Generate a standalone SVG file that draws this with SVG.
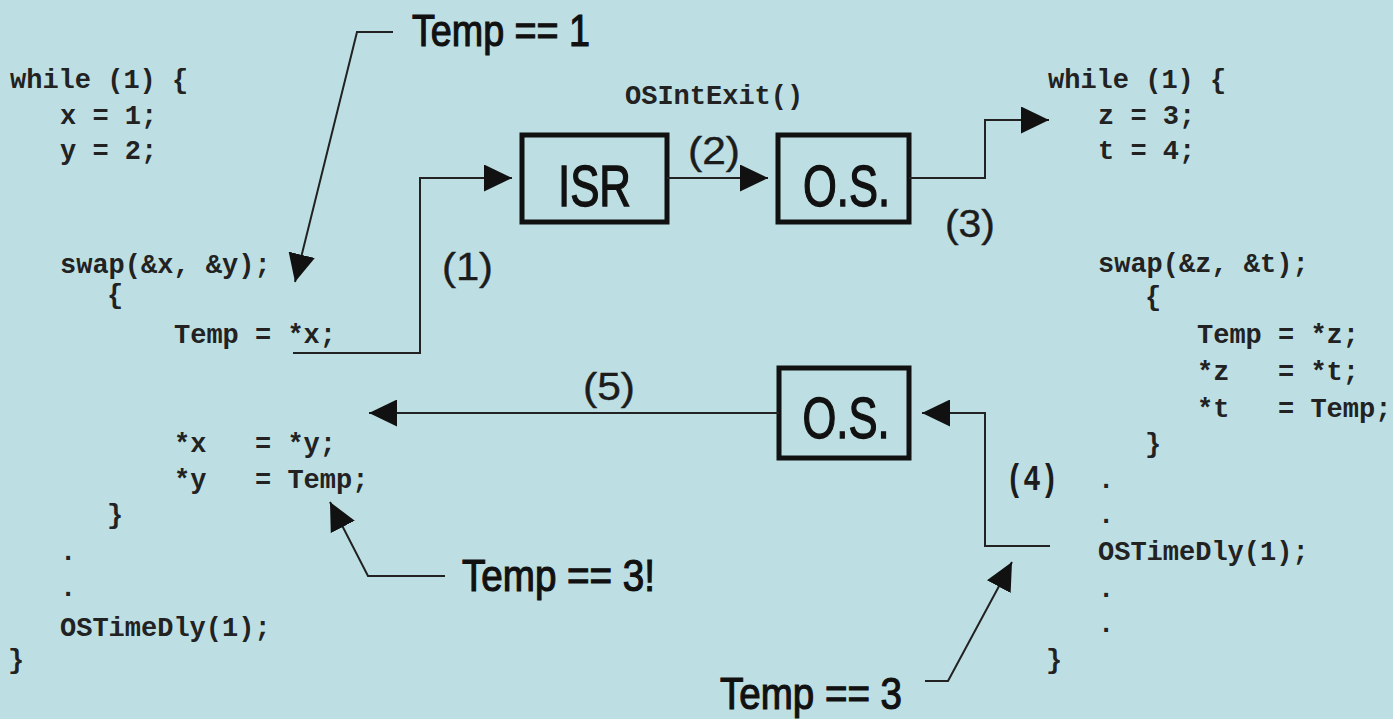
<svg xmlns="http://www.w3.org/2000/svg" width="1393" height="719" viewBox="0 0 1393 719">
  <style>
    .code { font-family: "Liberation Mono", "Courier New", monospace; font-size: 27px; font-weight: bold; fill: #222; white-space: pre; }
    .note { font-family: "Liberation Sans", Arial, sans-serif; font-size: 44px; fill: #111; stroke: #111; stroke-width: 1.2; }
    .step { font-family: "Liberation Sans", Arial, sans-serif; font-size: 38px; fill: #1c1c1c; stroke: #1c1c1c; stroke-width: 0.4; }
    .stepm { font-family: "Liberation Mono", "Courier New", monospace; font-size: 36px; font-weight: bold; fill: #1c1c1c; }
    .box { fill: none; stroke: #111; stroke-width: 5; }
    .boxlabel { font-family: "Liberation Sans", Arial, sans-serif; font-size: 57px; fill: #111; stroke: #111; stroke-width: 1.4; }
    .wire { fill: none; stroke: #222; stroke-width: 2; }
  </style>
  <defs>
    <marker id="head" viewBox="0 0 28 27" refX="28" refY="13.5" markerWidth="28" markerHeight="27" markerUnits="userSpaceOnUse" orient="auto">
      <path d="M0,0 L28,13.5 L0,27 z" fill="#111"/>
    </marker>
  </defs>

  <rect width="1393" height="719" fill="#bddfe3"/>

  <!-- Task 1 source listing -->
  <g id="task1-code" xml:space="preserve">
    <text class="code" x="10" y="88">while (1) {</text>
    <text class="code" x="60" y="124">x = 1;</text>
    <text class="code" x="60" y="159">y = 2;</text>
    <text class="code" x="60" y="273">swap(&amp;x, &amp;y);</text>
    <text class="code" x="107" y="303">{</text>
    <text class="code" x="174" y="343">Temp = *x;</text>
    <text class="code" x="174" y="452">*x   = *y;</text>
    <text class="code" x="174" y="488">*y   = Temp;</text>
    <text class="code" x="107" y="523">}</text>
    <text class="code" x="60" y="560">.</text>
    <text class="code" x="60" y="596">.</text>
    <text class="code" x="60" y="636">OSTimeDly(1);</text>
    <text class="code" x="8" y="668">}</text>
  </g>

  <!-- Task 2 source listing -->
  <g id="task2-code" xml:space="preserve">
    <text class="code" x="1048" y="88">while (1) {</text>
    <text class="code" x="1098" y="124">z = 3;</text>
    <text class="code" x="1098" y="159">t = 4;</text>
    <text class="code" x="1098" y="272">swap(&amp;z, &amp;t);</text>
    <text class="code" x="1145" y="305">{</text>
    <text class="code" x="1197" y="343">Temp = *z;</text>
    <text class="code" x="1197" y="380">*z   = *t;</text>
    <text class="code" x="1197" y="417">*t   = Temp;</text>
    <text class="code" x="1145" y="452">}</text>
    <text class="code" x="1098" y="488">.</text>
    <text class="code" x="1098" y="523">.</text>
    <text class="code" x="1098" y="560">OSTimeDly(1);</text>
    <text class="code" x="1098" y="597">.</text>
    <text class="code" x="1098" y="632">.</text>
    <text class="code" x="1046" y="668">}</text>
  </g>

  <!-- Interrupt service routine -->
  <g id="isr">
    <rect class="box" x="522" y="135" width="145" height="87"/>
    <text class="boxlabel" x="594.5" y="206" text-anchor="middle" textLength="73" lengthAdjust="spacingAndGlyphs">ISR</text>
  </g>

  <!-- Kernel, after interrupt exit -->
  <g id="os-top">
    <rect class="box" x="778" y="135" width="131" height="87"/>
    <text class="boxlabel" x="846.5" y="206" text-anchor="middle" textLength="87" lengthAdjust="spacingAndGlyphs">O.S.</text>
  </g>

  <!-- Kernel, after OSTimeDly -->
  <g id="os-bottom">
    <rect class="box" x="779" y="368" width="130" height="90"/>
    <text class="boxlabel" x="846" y="438" text-anchor="middle" textLength="87" lengthAdjust="spacingAndGlyphs">O.S.</text>
  </g>

  <g id="connectors">
    <path class="wire" d="M293,353 H420 V178 H512" marker-end="url(#head)"/>
    <path class="wire" d="M667,178 H768" marker-end="url(#head)"/>
    <path class="wire" d="M909,178 H985 V120 H1049" marker-end="url(#head)"/>
    <path class="wire" d="M1050,546 H985 V413 H922" marker-end="url(#head)"/>
    <path class="wire" d="M779,413 H369" marker-end="url(#head)"/>
    <path class="wire" d="M393,32 H357 L295,282" marker-end="url(#head)"/>
    <path class="wire" d="M445,576 H368 L330,502" marker-end="url(#head)"/>
    <path class="wire" d="M925,681 H948 L1012,562" marker-end="url(#head)"/>
  </g>

  <g id="labels">
    <text class="code" x="625" y="104" font-size="26">OSIntExit()</text>
    <text class="step" x="442" y="280" textLength="51" lengthAdjust="spacingAndGlyphs">(1)</text>
    <text class="step" x="688" y="164" textLength="52" lengthAdjust="spacingAndGlyphs">(2)</text>
    <text class="step" x="945" y="237" textLength="50" lengthAdjust="spacingAndGlyphs">(3)</text>
    <text class="stepm" x="1006" y="490" textLength="52" lengthAdjust="spacingAndGlyphs">(4)</text>
    <text class="step" x="583" y="400" textLength="52" lengthAdjust="spacingAndGlyphs">(5)</text>
    <text class="note" x="412" y="46" textLength="178" lengthAdjust="spacingAndGlyphs">Temp == 1</text>
    <text class="note" x="462" y="591" textLength="193" lengthAdjust="spacingAndGlyphs">Temp == 3!</text>
    <text class="note" x="720" y="709" textLength="182" lengthAdjust="spacingAndGlyphs">Temp == 3</text>
  </g>
</svg>
